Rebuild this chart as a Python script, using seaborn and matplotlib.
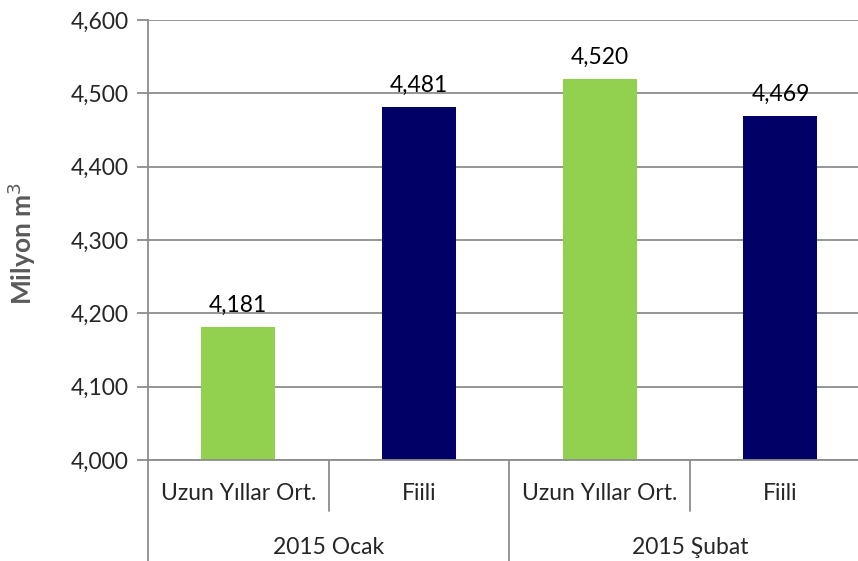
import pandas as pd
import matplotlib.pyplot as plt
import seaborn as sns

# chart data
periods = ["2015 Ocak", "2015 Ocak", "2015 Şubat", "2015 Şubat"]
types = ["Uzun Yıllar Ort.", "Fiili", "Uzun Yıllar Ort.", "Fiili"]
values = [4181, 4481, 4520, 4469]
y_ticks = [4000, 4100, 4200, 4300, 4400, 4500, 4600]

df = pd.DataFrame({"period": periods, "type": types, "value": values})
df["bar"] = df["period"] + " | " + df["type"]

sns.set_style("white")
plt.rcParams["font.family"] = ["Lato", "DejaVu Sans"]

fig = plt.figure(figsize=(8.58, 5.61), dpi=100)
ax = fig.add_axes([148 / 858, 101 / 561, 710 / 858, 440 / 561])

palette = {"Uzun Yıllar Ort.": "#92D050", "Fiili": "#000066"}
sns.barplot(data=df, x="bar", y="value", hue="type", palette=palette,
            dodge=False, width=0.41, legend=False, saturation=1,
            linewidth=0, ax=ax)

fs = 16.5
for c in ax.containers:
    ax.bar_label(c, labels=[f"{v:,.0f}" for v in c.datavalues],
                 padding=8, fontsize=fs, color="black")

grid_col = "#8c8c8c"
ax.set_ylim(4000, 4600)
ax.set_yticks(y_ticks)
ax.set_yticklabels([f"{t:,}" for t in y_ticks], fontsize=fs)
ax.set_xlim(-0.5, -0.5 + 710 / 180.7)
ax.yaxis.grid(True, color=grid_col, linewidth=1.3)
ax.set_axisbelow(True)
ax.tick_params(axis="y", length=8, width=1.3, color=grid_col, pad=6, left=True)
ax.tick_params(axis="x", length=0, labelbottom=False)
for s in ["top", "right"]:
    ax.spines[s].set_visible(False)
for s in ["left", "bottom"]:
    ax.spines[s].set_color(grid_col)
    ax.spines[s].set_linewidth(1.3)
ax.set_xlabel("")
ax.set_ylabel("")

# two-level category axis
tr = ax.get_xaxis_transform()
for i, t in enumerate(types):
    ax.text(i, -34 / 440, t, transform=tr, ha="center", va="center", fontsize=fs)
for p, x in [("2015 Ocak", 0.5), ("2015 Şubat", 2.5)]:
    ax.text(x, -87 / 440, p, transform=tr, ha="center", va="center", fontsize=fs)
for x, ybot in [(-0.5, -101 / 440), (0.5, -51 / 440), (1.5, -101 / 440), (2.5, -51 / 440)]:
    ax.plot([x, x], [0, ybot], transform=tr, color=grid_col, lw=1.3, clip_on=False)

fig.text(22 / 858, 1 - 243 / 561, "Milyon m$^3$", rotation=90, ha="center", va="center",
         fontsize=19, fontweight="bold", color="#595959")

fig.savefig("out.png", dpi=100)
